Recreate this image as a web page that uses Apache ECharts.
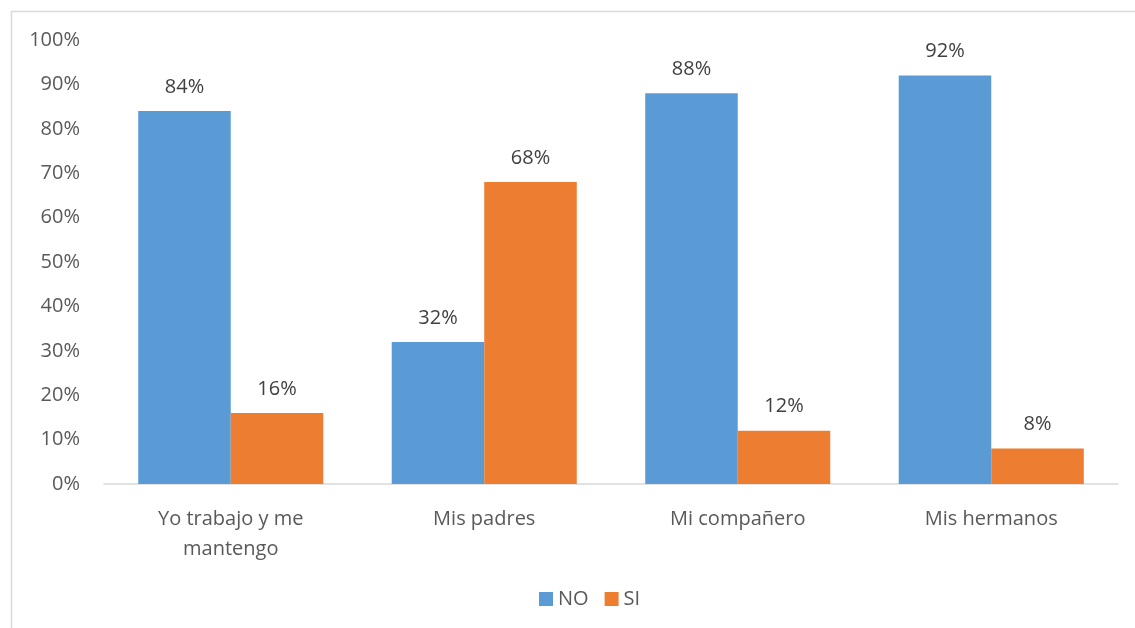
<!DOCTYPE html>
<html>
<head>
<meta charset="utf-8">
<script src="https://cdn.jsdelivr.net/npm/echarts@6/dist/echarts.min.js"></script>
<style>
  html, body { margin: 0; padding: 0; background: #fff; }
  #main { width: 1135px; height: 628px; }
</style>
</head>
<body>
<div id="main"></div>
<script>
  // categorias y valores (%)
  const categories = ['Yo trabajo y me\nmantengo', 'Mis padres', 'Mi compañero', 'Mis hermanos'];
  const noValues = [84, 32, 88, 92];
  const siValues = [16, 68, 12, 8];
  const seriesNames = ['NO', 'SI'];

  const font = '"Open Sans", "Noto Sans", sans-serif';
  const fs = 20;

  let myChart = echarts.init(document.getElementById('main'));
  let option = {
    animation: false,
    color: ['#5B9BD5', '#ED7D31'],
    textStyle: { fontFamily: font },
    graphic: [{
      type: 'rect',
      shape: { x: 11.5, y: 11.5, width: 1140, height: 640 },
      style: { fill: 'none', stroke: '#d9d9d9', lineWidth: 1.5 },
      silent: true
    }],
    legend: {
      bottom: 14,
      left: 534,
      itemWidth: 14,
      itemHeight: 14,
      itemGap: 16,
      icon: 'rect',
      textStyle: { fontSize: fs, color: '#595959', fontFamily: font },
      data: seriesNames
    },
    grid: {
      left: 104,
      right: 17,
      top: 40,
      bottom: 144
    },
    xAxis: {
      type: 'category',
      data: categories,
      axisTick: { show: false },
      axisLine: { lineStyle: { color: '#d9d9d9', width: 1.5 } },
      axisLabel: {
        fontSize: fs,
        color: '#595959',
        margin: 20,
        lineHeight: 30,
        fontFamily: font
      }
    },
    yAxis: {
      type: 'value',
      min: 0,
      max: 100,
      interval: 10,
      splitLine: { show: false },
      axisLine: { show: false },
      axisTick: { show: false },
      axisLabel: {
        formatter: '{value}%',
        fontSize: fs,
        color: '#595959',
        margin: 24,
        fontFamily: font
      }
    },
    series: [
      {
        name: seriesNames[0],
        type: 'bar',
        barGap: 0,
        barCategoryGap: '27%',
        data: noValues,
        label: {
          show: true,
          position: 'top',
          distance: 14,
          formatter: '{c}%',
          fontSize: fs,
          color: '#404040',
          fontFamily: font
        }
      },
      {
        name: seriesNames[1],
        type: 'bar',
        barGap: 0,
        barCategoryGap: '27%',
        data: siValues,
        label: {
          show: true,
          position: 'top',
          distance: 14,
          formatter: '{c}%',
          fontSize: fs,
          color: '#404040',
          fontFamily: font
        }
      }
    ]
  };
  myChart.setOption(option);
</script>
</body>
</html>
